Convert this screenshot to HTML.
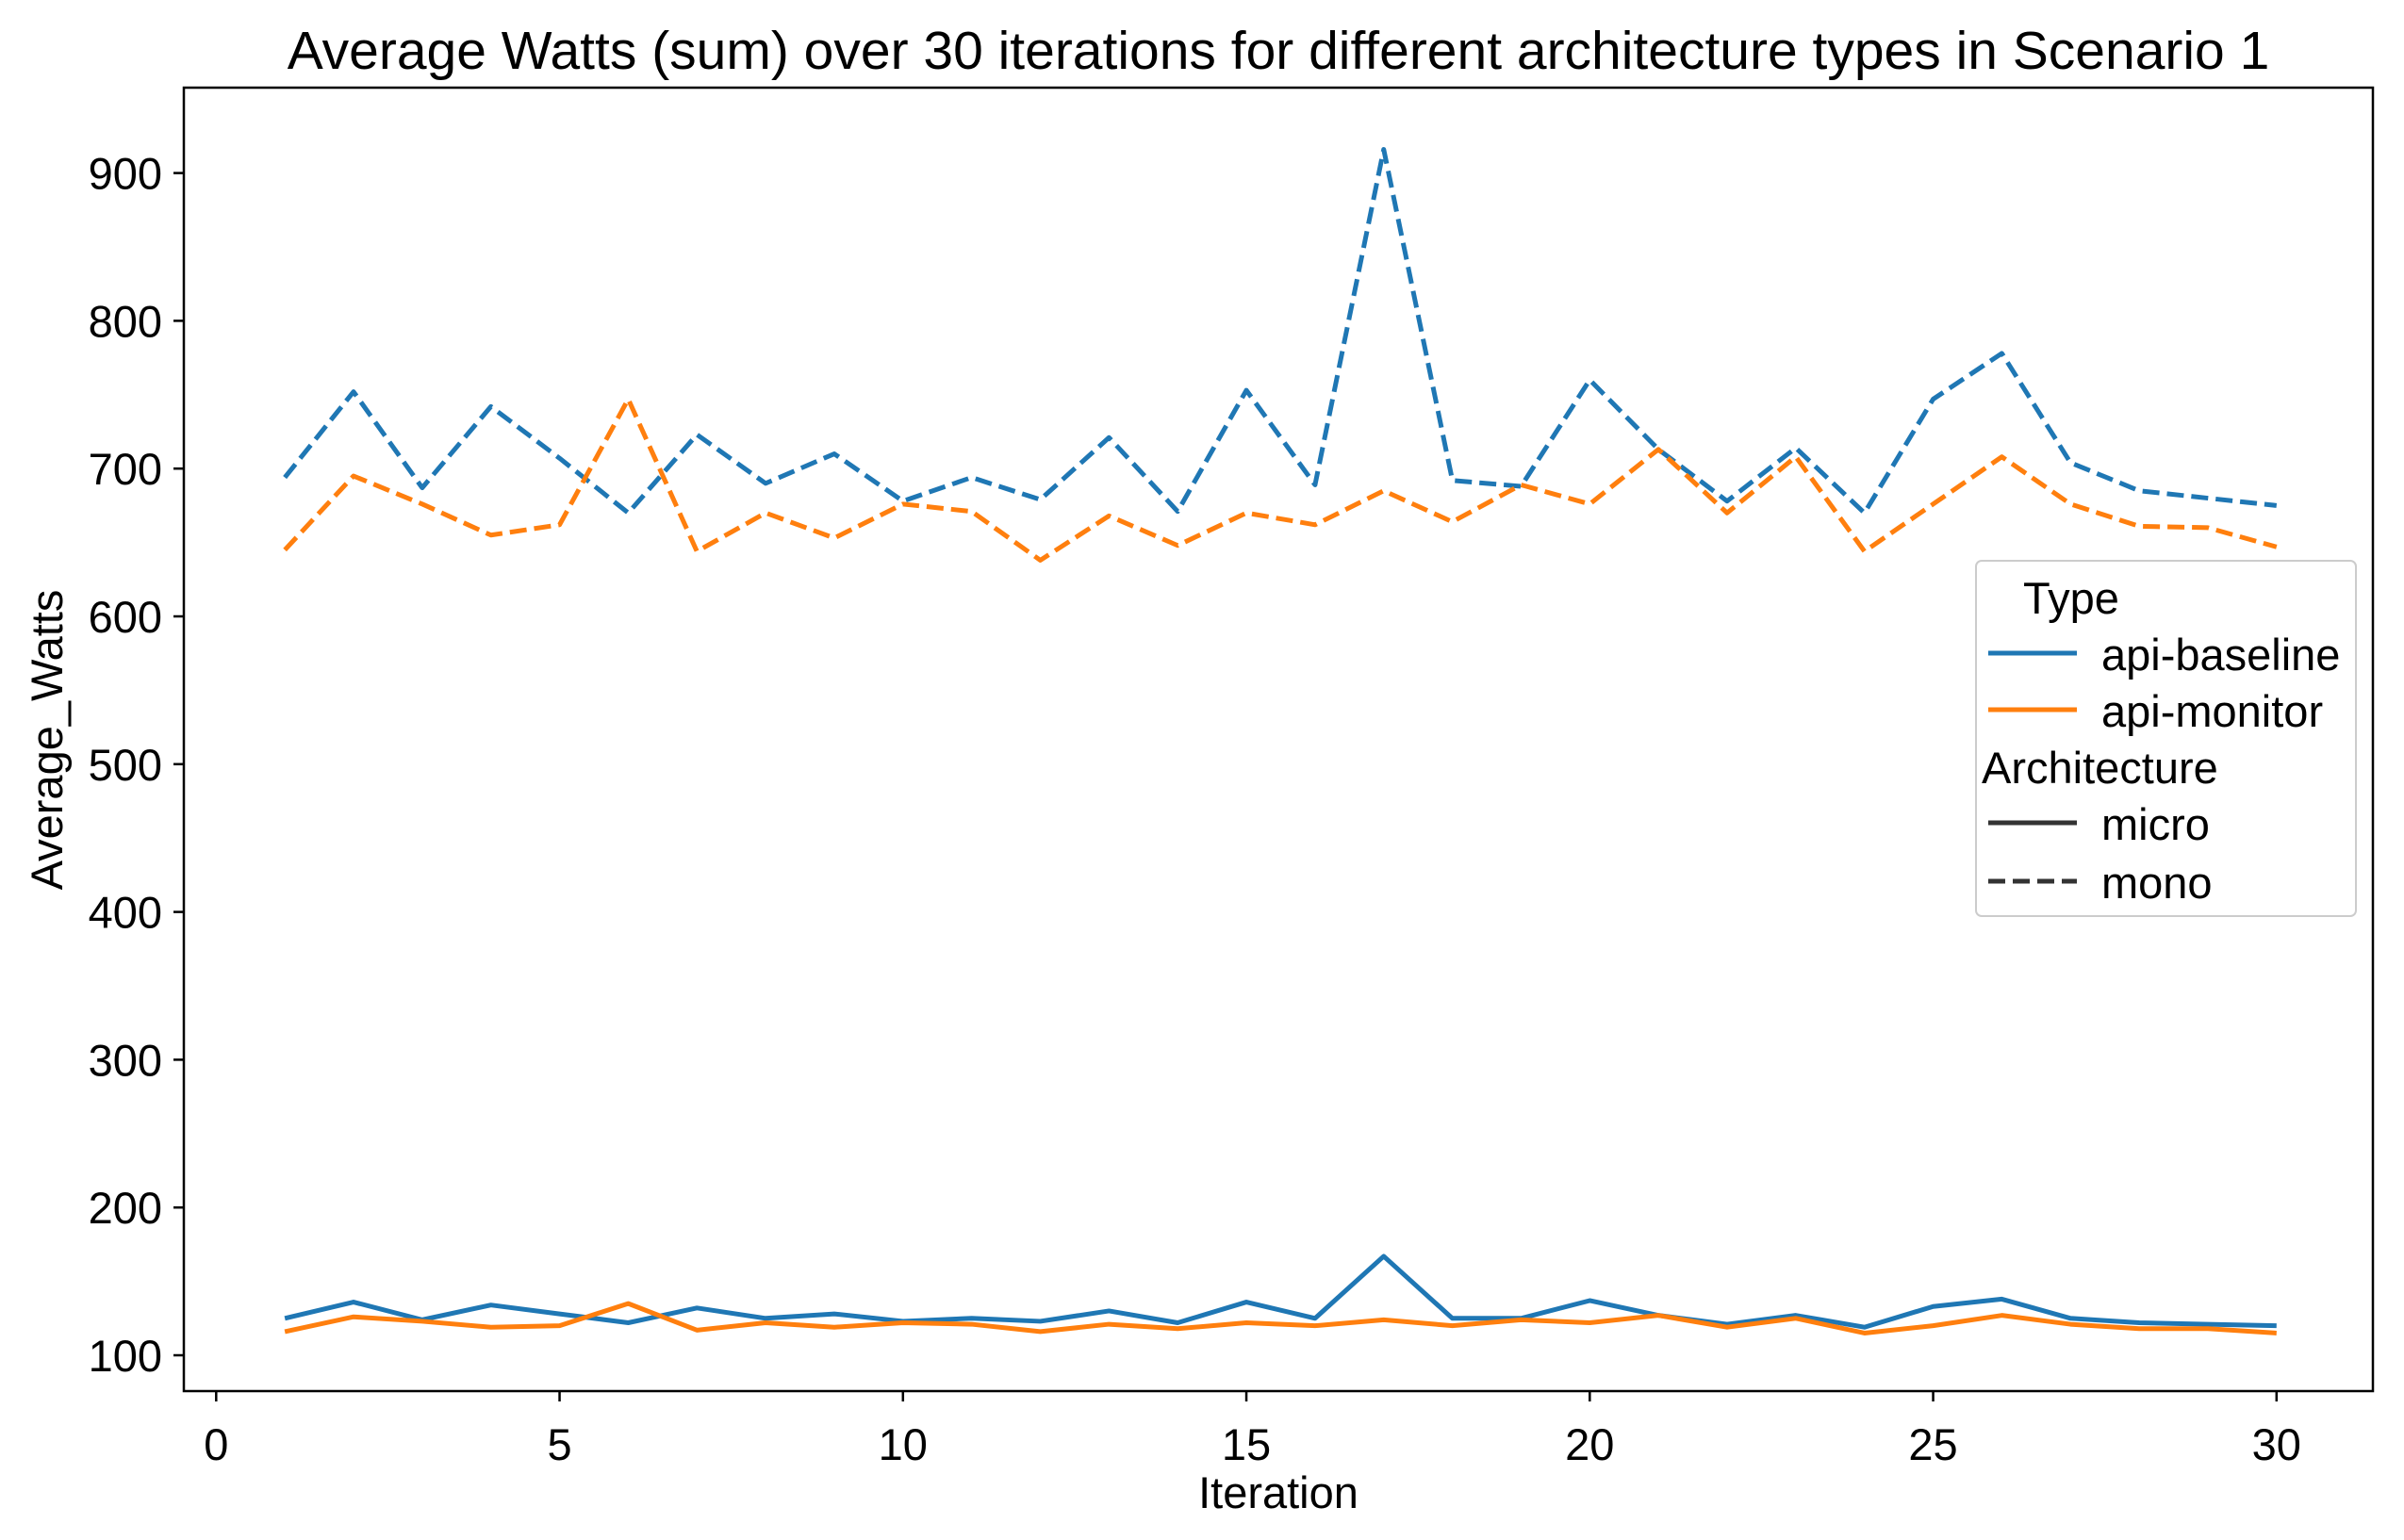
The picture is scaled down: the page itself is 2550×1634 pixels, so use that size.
<!DOCTYPE html>
<html><head><meta charset="utf-8"><style>
html,body{margin:0;padding:0;background:#fff}
svg{display:block;font-family:"Liberation Sans","DejaVu Sans",sans-serif}
</style></head><body>
<svg id="chart" width="2550" height="1634" viewBox="0 0 2550 1634" xmlns="http://www.w3.org/2000/svg">
<rect width="2550" height="1634" fill="#fff"/>
<text x="1356" y="73" font-size="57" text-anchor="middle" fill="#000">Average Watts (sum) over 30 iterations for different architecture types in Scenario 1</text>
<g id="xticks"></g>
<g id="yticks"></g>
<g id="series"></g>
<rect x="195" y="93" width="2322" height="1383" fill="none" stroke="#000" stroke-width="2.5"/>
<text x="1356" y="1600" font-size="47" text-anchor="middle">Iteration</text>
<text transform="translate(66,785) rotate(-90)" font-size="47" text-anchor="middle">Average_Watts</text>
<g>
<rect x="2096" y="595" width="403" height="377" rx="6" fill="#fff" fill-opacity="0.8" stroke="#ccc" stroke-width="2"/>
<text x="2146" y="651" font-size="47">Type</text>
<line x1="2109" y1="693" x2="2203" y2="693" stroke="#1f77b4" stroke-width="5"/>
<text x="2229" y="711" font-size="47">api-baseline</text>
<line x1="2109" y1="753" x2="2203" y2="753" stroke="#ff7f0e" stroke-width="5"/>
<text x="2229" y="771" font-size="47">api-monitor</text>
<text x="2102" y="831" font-size="47">Architecture</text>
<line x1="2109" y1="873" x2="2203" y2="873" stroke="#333" stroke-width="5"/>
<text x="2229" y="891" font-size="47">micro</text>
<line x1="2109" y1="935" x2="2203" y2="935" stroke="#333" stroke-width="5" stroke-dasharray="18 8"/>
<text x="2229" y="953" font-size="47">mono</text>
</g>
</svg>
<script>
const iterations = Array.from({length:30},(_,i)=>i+1);
const baselineMono = [694,752,687,742,707,670,723,690,710,678,694,679,721,671,753,689,916,692,688,760,713,678,714,670,747,778,704,685,680,675];
const monitorMono = [645,695,676,655,662,747,644,670,653,676,671,638,668,648,670,662,685,664,689,676,713,670,708,644,676,708,676,661,660,647];
const baselineMicro = [125,136,124,134,128,122,132,125,128,123,125,123,130,122,136,125,167,125,125,137,127,121,127,119,133,138,125,122,121,120];
const monitorMicro = [116,126,123,119,120,135,117,122,119,122,121,116,121,118,122,120,124,120,124,122,127,119,125,115,120,127,121,118,118,115];
const xTicks = [0,5,10,15,20,25,30];
const yTicks = [100,200,300,400,500,600,700,800,900];

const NS="http://www.w3.org/2000/svg";
const xs = v => 229.3 + v*72.85;
const ys = v => 1438 - (v-100)*1.568;
function mk(tag, attrs, parent){const e=document.createElementNS(NS,tag);for(const k in attrs)e.setAttribute(k,attrs[k]);parent.appendChild(e);return e;}
const gx=document.getElementById('xticks'), gy=document.getElementById('yticks'), gs=document.getElementById('series');
xTicks.forEach(t=>{
  const l=mk('line',{x1:xs(t),x2:xs(t),y1:1476,y2:1487,stroke:'#000','stroke-width':2.5},gx);
  
  
  const tx=mk('text',{x:xs(t),y:1549,'font-size':47,'text-anchor':'middle'},gx);
  tx.textContent=t;
  
  
});
yTicks.forEach(t=>{
  const l=mk('line',{x1:184,x2:195,y1:ys(t),y2:ys(t),stroke:'#000','stroke-width':2.5},gy);
  
  
  const tx=mk('text',{x:172,y:ys(t)+17,'font-size':47,'text-anchor':'end'},gy);
  tx.textContent=t;
  
  
});
function line(data,color,dash,name){
  const p=mk('polyline',{points:data.map((v,i)=>xs(iterations[i])+','+ys(v)).join(' '),fill:'none',stroke:color,'stroke-width':5,'stroke-linejoin':'round'},gs);
  if(dash)p.setAttribute('stroke-dasharray','18 8');
  
  
}
line(baselineMono,'#1f77b4',true,'line-api-baseline-mono');
line(monitorMono,'#ff7f0e',true,'line-api-monitor-mono');
line(baselineMicro,'#1f77b4',false,'line-api-baseline-micro');
line(monitorMicro,'#ff7f0e',false,'line-api-monitor-micro');
</script>
</body></html>
